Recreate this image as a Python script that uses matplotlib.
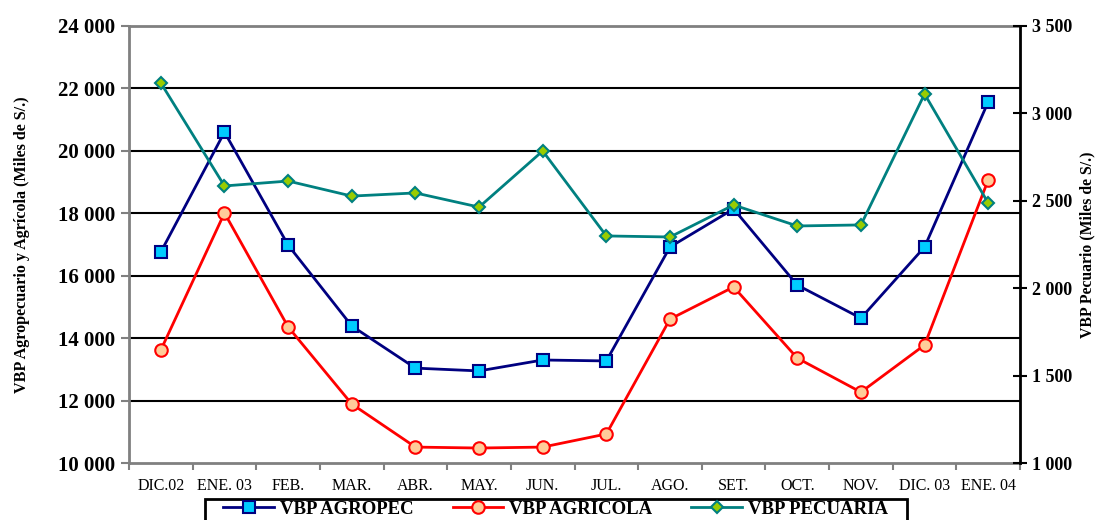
import numpy as np
import matplotlib.pyplot as plt
from matplotlib.ticker import FuncFormatter
from matplotlib.patches import Rectangle

meses = ['DIC.02', 'ENE. 03', 'FEB.', 'MAR.', 'ABR.', 'MAY.', 'JUN.', 'JUL.',
         'AGO.', 'SET.', 'OCT.', 'NOV.', 'DIC. 03', 'ENE. 04']
agropec = [16760, 20600, 16980, 14390, 13040, 12950, 13300, 13270,
           16920, 18140, 15700, 14640, 16920, 21570]
agricola = [13620, 18010, 14360, 11890, 10510, 10480, 10510, 10930,
            14610, 15640, 13360, 12270, 13780, 19070]
pecuaria = [3174, 2585, 2613, 2527, 2545, 2464, 2785, 2299,
            2293, 2476, 2356, 2362, 3111, 2487]

plt.rcParams['font.family'] = ['Liberation Serif', 'DejaVu Serif']

fig = plt.figure(figsize=(10.98, 5.2), dpi=100)
ax = fig.add_axes([0.1175, 0.1096, 0.8115, 0.8404])
ax2 = ax.twinx()

x = np.arange(len(meses))

def miles(v, pos):
    return '{:,.0f}'.format(v).replace(',', ' ')

l1, = ax.plot(x, agropec, color='#000080', lw=2, marker='s', ms=8.5,
              mfc='#00CCFF', mec='#000080', mew=1.5, label='VBP AGROPEC', zorder=4)
l2, = ax.plot(x, agricola, color='#FF0000', lw=2, marker='o', ms=9,
              mfc='#FFCC99', mec='#FF0000', mew=1.5, label='VBP AGRICOLA', zorder=4)
l3, = ax2.plot(x, pecuaria, color='#008080', lw=2, marker='D', ms=6.5,
               mfc='#99CC00', mec='#008080', mew=1.5, label='VBP PECUARIA', zorder=4)

ax.set_xlim(-0.5, len(meses) - 0.5)
ax.set_ylim(10000, 24000)
ax.set_yticks(np.arange(10000, 24001, 2000))
ax.yaxis.set_major_formatter(FuncFormatter(miles))
ax2.set_ylim(1000, 3500)
ax2.set_yticks(np.arange(1000, 3501, 500))
ax2.yaxis.set_major_formatter(FuncFormatter(miles))

for g in range(12000, 24000, 2000):
    ax.axhline(g, color='black', lw=1.5, zorder=1)

ax.set_xticks(x)
ax.set_xticklabels(meses, fontsize=11.5)
ax.set_xticks(np.arange(-0.5, len(meses), 1), minor=True)
ax.tick_params(axis='x', which='major', length=0, pad=11)
ax.tick_params(axis='x', which='minor', length=5, width=1.5, color='#808080')
ax.tick_params(axis='y', length=6, width=1.5, color='#808080', labelsize=15, pad=4)
for t in ax.get_yticklabels():
    t.set_fontweight('bold')
ax2.tick_params(axis='y', direction='inout', length=10, width=1.5, color='black', labelsize=13)
for t in ax2.get_yticklabels():
    t.set_fontweight('bold')

for s in ['left', 'bottom', 'top']:
    ax.spines[s].set_color('#808080')
    ax.spines[s].set_linewidth(2)
    ax2.spines[s].set_visible(False)
ax.spines['right'].set_visible(False)
ax2.spines['right'].set_color('black')
ax2.spines['right'].set_linewidth(2)

ax.set_ylabel('VBP Agropecuario y Agrícola (Miles de S/.)', fontsize=11.6, fontweight='bold', labelpad=20)
ax2.set_ylabel('VBP Pecuario (Miles de S/.)', fontsize=11.3, fontweight='bold', rotation=90, labelpad=5)

leg = fig.legend([l1, l2, l3], ['VBP AGROPEC', 'VBP AGRICOLA', 'VBP PECUARIA'],
                 loc='upper center', ncol=3, frameon=False,
                 prop={'weight': 'bold', 'size': 13.5}, handlelength=2.7,
                 columnspacing=2.1, borderpad=0.15, handletextpad=0.3,
                 borderaxespad=0)
leg.set_bbox_to_anchor((0.506, 1 - 498 / 520), transform=fig.transFigure)

# legend box, cut by the bottom edge as in the original
fig.patches.append(Rectangle((205 / 1098, -0.05), 702 / 1098, 0.05 + 1 - 499 / 520,
                             transform=fig.transFigure, fill=False,
                             edgecolor='black', linewidth=2))

fig.savefig('out.png', dpi=100)
